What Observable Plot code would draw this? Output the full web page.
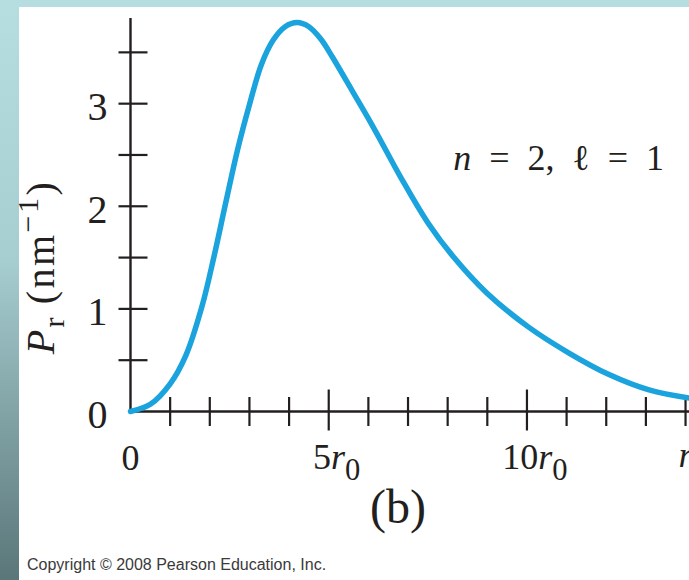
<!DOCTYPE html>
<html>
<head>
<meta charset="utf-8">
<script src="https://cdn.jsdelivr.net/npm/d3@7"></script>
<script src="https://cdn.jsdelivr.net/npm/@observablehq/plot@0.6"></script>
<style>
  html, body { margin: 0; padding: 0; }
  body {
    width: 689px; height: 580px; position: relative; overflow: hidden;
    background: linear-gradient(to bottom, #b6dee1 0%, #a6cdd0 45%, #5a7679 100%);
  }
  #panel { position: absolute; left: 19px; top: 7px; right: 0; bottom: 0; background: #ffffff; }
  #chart { position: absolute; left: 0; top: 0; }
  #copy {
    position: absolute; left: 27px; top: 557px; font: 16px/16px "Liberation Sans", Arial, sans-serif;
    color: #3a3a3a; white-space: nowrap;
  }
</style>
</head>
<body>
<div id="panel"></div>
<div id="chart"></div>
<div id="copy">Copyright © 2008 Pearson Education, Inc.</div>
<script>
// ---- data (r in units of r0, P_r in nm^-1) ----
const rValues = [0, 0.5, 1.0, 1.4, 1.8, 2.1, 2.4, 2.7, 3.0, 3.3, 3.6, 3.9, 4.2, 4.5, 4.8, 5.1, 5.6, 6.14, 6.82, 7.5, 8.16, 9.0, 10.05, 11.06, 12.07, 13.08, 14.1];
const pValues = [0, 0.07, 0.27, 0.55, 1.02, 1.50, 2.03, 2.55, 2.99, 3.38, 3.62, 3.75, 3.79, 3.75, 3.63, 3.45, 3.12, 2.76, 2.28, 1.84, 1.50, 1.15, 0.82, 0.57, 0.36, 0.21, 0.13];
const xMinorTicks = [1, 2, 3, 4, 6, 7, 8, 9, 11, 12, 13, 14];
const xMajorTicks = [5, 10];
const yTicks = [0.5, 1, 1.5, 2, 2.5, 3, 3.5];
const yTickLabels = ["0", "1", "2", "3"];
const xTickLabels = [{r: 5, label: "5r0"}, {r: 10, label: "10r0"}];
const xZeroLabel = ["0"];
const xAxisTitle = ["r"];
const yAxisTitle = ["Pr (nm-1)"];
const annotation = [{r: 10.8, p: 2.47, label: "n = 2, l = 1"}];
const panelLabel = ["(b)"];

const data = rValues.map((r, i) => ({r, p: pValues[i]}));

const SERIF = '"Liberation Serif", "Times New Roman", Times, serif';
const INK = "#231f20";
const BLUE = "#1aa3dd";

// rich-text specs (rendered as tspans)
const rich = {
  "5r0": {fs: 36, subScale: 0.85, subShift: 0.3, parts: [{t: "5"}, {t: "r", it: true}, {t: "0", sub: true}]},
  "10r0": {fs: 36, subScale: 0.85, subShift: 0.3, parts: [{t: "10"}, {t: "r", it: true}, {t: "0", sub: true}]},
  "Pr (nm-1)": {fs: 40, subScale: 0.75, subShift: 0.25, spacing: "2.5px", parts: [{t: "P", it: true}, {t: "r", sub: true}, {t: "\u2009(nm"}, {t: "\u22121", sup: true}, {t: ")"}]},
  "n = 2, l = 1": {fs: 36, subScale: 0.75, subShift: 0.3, parts: [{t: "n", it: true}, {t: "\u2002=\u20022,\u2002"}, {t: "\u2113"}, {t: "\u2002=\u20021"}]}
};

const vTick = {draw(ctx, size) { const r = Math.sqrt(size / Math.PI); ctx.moveTo(0, -r); ctx.lineTo(0, r); }};
const hTick = {draw(ctx, size) { const r = Math.sqrt(size / Math.PI); ctx.moveTo(-r, 0); ctx.lineTo(r, 0); }};

const chart = Plot.plot({
  width: 689,
  height: 580,
  marginLeft: 130,
  marginRight: 0,
  marginTop: 18,
  marginBottom: 169,
  x: {domain: [0, 14.1], axis: null},
  y: {domain: [0, 3.83], axis: null},
  style: {background: "transparent", fontFamily: SERIF, color: INK},
  marks: [
    Plot.ruleX([0], {stroke: INK, strokeWidth: 2.4}),
    Plot.ruleY([0], {stroke: INK, strokeWidth: 2.4}),
    Plot.dot(xMinorTicks, {x: d => d, y: 0, symbol: vTick, r: 14.5, fill: "none", stroke: INK, strokeWidth: 2.2}),
    Plot.dot(xMajorTicks, {x: d => d, y: 0, symbol: vTick, r: 20.5, dy: -1.5, fill: "none", stroke: INK, strokeWidth: 2.2}),
    Plot.dot(yTicks, {x: 0, y: d => d, symbol: hTick, r: 14.5, dx: 2.5, fill: "none", stroke: INK, strokeWidth: 2.2}),
    Plot.line(data, {x: "r", y: "p", curve: "catmull-rom", stroke: BLUE, strokeWidth: 5.5, strokeLinecap: "round"}),
    Plot.text(yTickLabels, {x: 0, y: d => +d, text: d => d, dx: -23, dy: 3.5, textAnchor: "end", fontSize: 40, fill: INK}),
    Plot.text(xZeroLabel, {x: 0, y: 0, text: d => d, dy: 47, fontSize: 36, fill: INK}),
    Plot.text(xTickLabels, {x: "r", y: 0, text: "label", dx: 8, dy: 46, fontSize: 36, fill: INK}),
    Plot.text(xAxisTitle, {x: 14.1, y: 0, text: d => d, dx: -11, dy: 44, textAnchor: "start", fontSize: 36, fontStyle: "italic", fill: INK}),
    Plot.text(yAxisTitle, {frameAnchor: "left", textAnchor: "middle", text: d => d, dx: -89, dy: 52, rotate: -90, fontSize: 40, fill: INK}),
    Plot.text(annotation, {x: "r", y: "p", text: "label", fontSize: 36, fill: INK}),
    Plot.text(panelLabel, {frameAnchor: "bottom", textAnchor: "middle", text: d => d, dx: -12, dy: 111.5, fontSize: 48, fill: INK})
  ]
});

// convert plain labels into rich text with italic / sub / superscript tspans
d3.select(chart).selectAll("text").each(function () {
  const spec = rich[this.textContent];
  if (!spec) return;
  this.textContent = "";
  if (spec.spacing) this.style.letterSpacing = spec.spacing;
  let shift = 0;
  for (const s of spec.parts) {
    const ts = document.createElementNS("http://www.w3.org/2000/svg", "tspan");
    ts.textContent = s.t;
    if (s.it) ts.setAttribute("font-style", "italic");
    const target = s.sub ? spec.subShift : s.sup ? -0.42 : 0;
    const dy = target - shift;
    if (dy) ts.setAttribute("dy", (dy * spec.fs).toFixed(1) + "px");
    shift = target;
    if (s.sub || s.sup) ts.setAttribute("font-size", (spec.subScale * spec.fs).toFixed(1) + "px");
    this.appendChild(ts);
  }
});

document.getElementById("chart").appendChild(chart);
</script>
</body>
</html>
